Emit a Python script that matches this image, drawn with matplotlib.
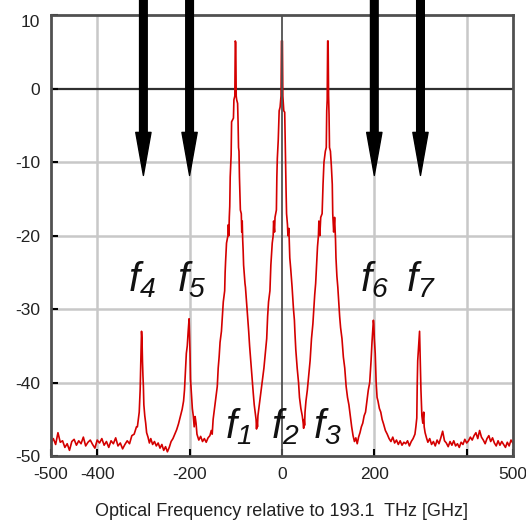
import numpy as np
import matplotlib
matplotlib.use("Agg")
import matplotlib.pyplot as plt

plt.rcParams['font.family'] = ['Liberation Sans', 'DejaVu Sans']
plt.rcParams['axes.unicode_minus'] = False
plt.rcParams['mathtext.fontset'] = 'custom'
plt.rcParams['mathtext.it'] = 'Liberation Sans:italic'
plt.rcParams['mathtext.rm'] = 'Liberation Sans:italic'

## data ##
freq_ghz = [
    -500, -495, -490, -485, -480, -475, -470, -465, -460, -455, -450, -445, -440, -435, -430,
    -425, -420, -415, -410, -405, -400, -395, -390, -385, -380, -375, -370, -365, -360, -355,
    -350, -345, -340, -335, -330, -325, -320, -315,
    -313, -311, -309, -307, -306, -305, -304, -303, -302, -301, -300, -299, -297, -295, -293,
    -290, -287, -284, -280, -276, -272, -268, -264, -260, -256, -252, -248, -244, -240, -236,
    -232, -228, -224, -220, -216, -213, -211, -209, -207, -205, -203, -201, -200, -199, -198,
    -196, -194, -192, -190, -188, -186, -184, -180, -176, -172, -168, -164, -160, -156, -153,
    -151, -149, -146, -143, -140, -138, -136, -134, -131, -129, -127, -124, -123, -122, -120,
    -117, -116, -115, -114, -113, -112, -110, -109, -105, -104, -102, -101, -100, -99, -98,
    -96, -95, -94, -93, -92, -90, -88, -87, -86, -85, -84, -83, -80, -79, -76, -74, -72, -70,
    -67, -65, -62, -60, -58, -56, -55, -54, -53, -52, -50,
    -48, -45, -42, -39, -36, -33, -31, -29, -26, -24, -21, -19, -18, -16, -15, -12, -11, -10,
    -8, -6, -4, -2, -1, 1, 2, 4, 6, 7, 8, 9, 10, 12, 13, 15, 16, 17, 19, 22, 25, 27, 28, 30,
    33, 36, 38, 41, 44, 46, 47, 48, 49, 50,
    52, 55, 58, 61, 64, 67, 69, 71, 73, 75, 77, 79, 80, 82, 84, 87, 89, 91, 94, 96, 97, 98,
    99, 100, 101, 102, 103, 105, 107, 109, 110, 112, 114, 116, 117, 119, 121, 123, 125, 127,
    130, 133, 136, 139, 142, 145, 148, 151, 154, 157, 160, 163, 166, 169, 172, 175, 178, 181,
    184, 187, 190, 193, 195, 197, 198, 199, 200, 202, 204, 206, 208, 211, 214, 217, 220, 224,
    228, 232, 236, 240, 244, 248, 252, 256, 260, 264, 268, 272, 276, 280, 284, 288, 290, 292,
    293, 294, 296, 298, 299, 300, 301, 303, 305, 307, 308, 310, 313, 316, 320, 324, 328, 332,
    336, 340, 344, 348, 352, 356, 360, 364, 368, 372, 376, 380, 384, 388, 392, 396, 400, 404,
    408, 412, 416, 420, 424, 428, 432, 436, 440, 444, 448, 452, 456, 460, 464, 468, 472, 476,
    480, 484, 488, 492, 496, 500,
]
power_db = [
    -48.2, -47.6, -48.4, -46.8, -48.1, -47.9, -48.8, -48.3, -49.2, -48.0, -47.7, -48.5, -47.9, -48.3, -47.4,
    -48.6, -48.1, -47.8, -48.4, -48.9, -47.8, -48.2, -47.6, -48.5, -48.0, -48.8, -47.9, -48.3, -47.5, -48.6,
    -48.2, -49.0, -48.4, -47.9, -48.3, -47.2, -47.0, -46.0,
    -46.0, -45.0, -44.0, -41.0, -38.0, -35.5, -33.0, -34.0, -37.0, -39.0, -40.5, -43.0, -44.5, -45.5, -46.8,
    -47.4, -48.2, -47.6, -48.4, -48.0, -48.6, -48.2, -48.9, -48.4, -49.2, -48.7, -49.4, -48.8, -48.0, -47.6,
    -47.0, -46.4, -45.6, -44.6, -43.6, -42.5, -41.0, -38.5, -36.0, -35.0, -33.0, -31.3, -33.5, -36.0, -39.5,
    -41.5, -43.5, -44.5, -46.0, -44.6, -45.5, -47.0, -47.8, -47.3, -48.0, -47.6, -48.1, -47.5, -47.2, -46.5,
    -47.0, -45.0, -43.5, -42.0, -40.5, -38.0, -36.5, -34.5, -33.0, -31.0, -29.0, -27.5, -25.0, -23.5, -21.0,
    -20.0, -18.5, -20.0, -17.5, -16.0, -12.0, -9.0, -4.5, -4.0, -1.5, -1.0, 6.5, 6.3, -1.0, -1.5,
    -2.0, -4.5, -8.0, -8.5, -12.0, -16.5, -17.0, -19.5, -18.0, -20.5, -22.0, -24.0, -26.5, -27.0, -29.5, -31.0, -33.0, -35.0,
    -37.5, -39.0, -41.5, -43.0, -44.0, -45.0, -46.3, -45.2, -46.0, -44.5, -43.5,
    -42.5, -41.0, -39.5, -38.0, -36.0, -34.0, -31.0, -29.0, -27.5, -24.0, -21.0, -20.0, -18.0, -19.5, -17.5, -16.5, -12.0, -9.5,
    -7.0, -3.0, -2.5, -1.0, 6.5, 6.5, -1.0, -3.0, -3.2, -7.0, -10.5, -14.0, -17.0, -18.5, -20.0, -19.0, -21.0, -23.0, -24.5, -27.0, -30.0, -31.5, -33.0, -35.5,
    -38.0, -40.0, -42.0, -43.5, -44.5, -45.5, -46.2, -45.0, -45.8, -44.0,
    -42.5, -41.0, -39.0, -37.0, -34.0, -32.0, -30.0, -28.0, -26.5, -24.0, -21.5, -20.0, -18.0, -20.0, -17.5, -17.0, -13.0, -10.0, -8.5, -8.0, -3.0, -1.5,
    6.5, 6.5, -1.0, -3.5, -8.0, -8.5, -10.5, -13.0, -17.0, -19.5, -17.5, -20.5, -23.0, -25.5, -27.0, -29.0, -31.0, -32.5,
    -34.0, -36.5, -38.0, -40.5, -42.0, -43.0, -44.5, -46.0, -47.2, -48.0, -47.5, -48.3, -47.4, -46.8, -46.0, -45.5, -44.5, -44.0,
    -42.5, -41.0, -40.0, -37.0, -34.5, -32.5, -31.5, -32.0, -34.0, -36.0, -40.0, -42.0, -42.5, -43.5, -44.0, -45.0, -45.6, -46.5,
    -47.0, -47.6, -48.0, -47.4, -48.2, -47.8, -48.4, -47.9, -48.5, -48.1, -48.3, -47.9, -48.6, -48.0, -47.6, -47.0, -46.0, -44.8,
    -40.0, -37.0, -35.0, -33.0, -35.5, -38.5, -41.0, -44.5, -45.5, -44.0, -46.0, -46.8, -47.5, -48.1, -47.6, -48.4, -48.0, -48.6,
    -47.8, -48.3, -47.5, -46.6, -47.9, -48.2, -48.7, -48.0, -48.5, -47.9, -48.6, -48.3, -48.8, -48.1, -48.4, -47.7, -48.2, -47.9,
    -47.4, -47.8, -47.2, -46.8, -47.6, -46.5, -47.4, -47.8, -48.3, -47.6, -47.2, -48.0, -47.5, -48.2, -48.6, -47.9, -48.5, -48.0,
    -48.4, -48.8, -48.1, -48.6, -47.8, -48.2,
]

arrow_freqs = [-300, -200, 200, 300]
labels = ['$f_1$', '$f_2$', '$f_3$', '$f_4$', '$f_5$', '$f_6$', '$f_7$']
label_x = [-95, 8, 98, -303, -196, 201, 301]
label_y = [-46, -46, -46, -26, -26, -26, -26]

xticks = [-500, -400, -200, 0, 200, 400, 500]
xtick_labels = ['-500', '-400', '-200', '0', '200', '', '500']
yticks = [10, 0, -10, -20, -30, -40, -50]

## plot ##
fig = plt.figure(figsize=(5.26, 5.25), dpi=100)
ax = fig.add_axes([0.097, 0.131, 0.878, 0.840])

for xg in [-400, -200, 200, 400]:
    ax.axvline(xg, color='#c8c8c8', lw=1.8, zorder=1)
for yg in [-10, -20, -30, -40]:
    ax.axhline(yg, color='#c8c8c8', lw=1.8, zorder=1)
ax.axhline(0, color='#303030', lw=1.6, zorder=1)
ax.axvline(0, color='#505050', lw=1.3, zorder=3)

ax.plot(freq_ghz, power_db, color='#d40000', lw=1.2, zorder=2)

for f in arrow_freqs:
    ax.annotate('', xy=(f, -11.8), xytext=(f, 12.3),
                arrowprops=dict(facecolor='black', edgecolor='black',
                                width=5.5, headwidth=11, headlength=31, shrink=0),
                annotation_clip=False, zorder=5)

for s, x, y in zip(labels, label_x, label_y):
    ax.text(x, y, s, fontsize=29, ha='center', va='center', color='#111111', zorder=6)

ax.set_xlim(-500, 500)
ax.set_ylim(-50, 10)
ax.set_xticks(xticks)
ax.set_xticklabels(xtick_labels)
ax.set_yticks(yticks)
ax.tick_params(direction='in', length=5, width=1.5, color='black',
               labelsize=12.5, labelcolor='#222222')
ax.tick_params(axis='x', pad=8)
ax.tick_params(axis='y', pad=8)
ax.get_yticklabels()[0].set_va('top')
for sp in ax.spines.values():
    sp.set_color('#505050')
    sp.set_linewidth(2)

ax.set_xlabel('Optical Frequency relative to 193.1  THz [GHz]', fontsize=13, color='#222222', labelpad=15)

fig.savefig('out.png')
